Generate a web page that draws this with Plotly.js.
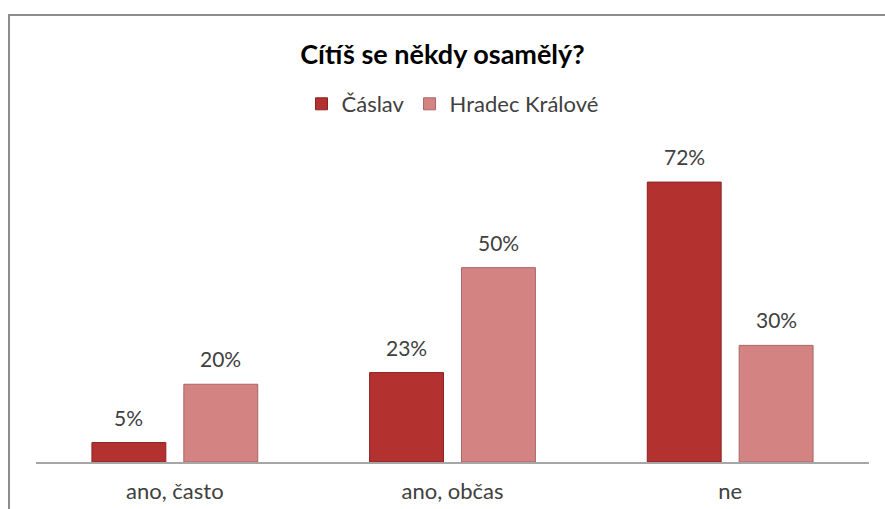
<!DOCTYPE html>
<html>
<head>
<meta charset="utf-8">
<script src="https://cdn.plot.ly/plotly-3.0.1.min.js"></script>
<style>
html,body{margin:0;padding:0;background:#fff;}
#wrap{position:relative;width:885px;height:509px;}
#chart{width:885px;height:509px;}
#frame{position:absolute;left:8px;top:14px;width:900px;height:520px;border-left:2px solid #8c8c8c;border-top:2px solid #8c8c8c;pointer-events:none;}
</style>
</head>
<body>
<div id="wrap"><div id="chart"></div><div id="frame"></div></div>
<script>
var categories = ["ano, často", "ano, občas", "ne"];
var caslav = [5, 23, 72];
var hradec = [20, 50, 30];
var seriesNames = ["Čáslav", "Hradec Králové"];

var font = "Lato, 'Open Sans', sans-serif";

var traces = [
  {type: "bar", name: seriesNames[0], x: categories, y: caslav,
   marker: {color: "#b3312f", line: {color: "#8a2422", width: 1}}, hoverinfo: "none"},
  {type: "bar", name: seriesNames[1], x: categories, y: hradec,
   marker: {color: "#d48383", line: {color: "#a96565", width: 1}}, hoverinfo: "none"}
];

var annotations = [];
[caslav, hradec].forEach(function(vals, si){
  vals.forEach(function(v, i){
    annotations.push({x: categories[i], y: v, xref: "x", yref: "y",
      text: v + "%", showarrow: false, xshift: si === 0 ? -46 : 46,
      yanchor: "bottom", yshift: 11,
      font: {family: font, size: 21, color: "#404040"}});
  });
});

var layout = {
  width: 885, height: 509,
  margin: {l: 36, r: 16, t: 151, b: 47},
  paper_bgcolor: "#fff", plot_bgcolor: "#fff",
  barmode: "group", bargap: 0.338, bargroupgap: 0.196,
  title: {text: "<b>Cítíš se někdy osamělý?</b>", x: 0.5, xanchor: "center",
          y: 1 - 55/509, yanchor: "middle",
          font: {family: font, size: 27, color: "#000"}},
  showlegend: true,
  legend: {orientation: "h", x: 0.5, xanchor: "center", y: 1 - 104/509, yref: "container",
           yanchor: "middle", font: {family: font, size: 22, color: "#404040"},
           itemwidth: 30, tracegroupgap: 0},
  xaxis: {showline: true, linecolor: "#a6a6a6", linewidth: 2, ticks: "",
          tickfont: {family: font, size: 22, color: "#404040"},
          ticklabelstandoff: 9, fixedrange: true},
  yaxis: {range: [0, 80], visible: false, showgrid: false, zeroline: false, fixedrange: true},
  annotations: annotations
};

Plotly.newPlot("chart", traces, layout, {displayModeBar: false, staticPlot: true});
</script>
</body>
</html>
